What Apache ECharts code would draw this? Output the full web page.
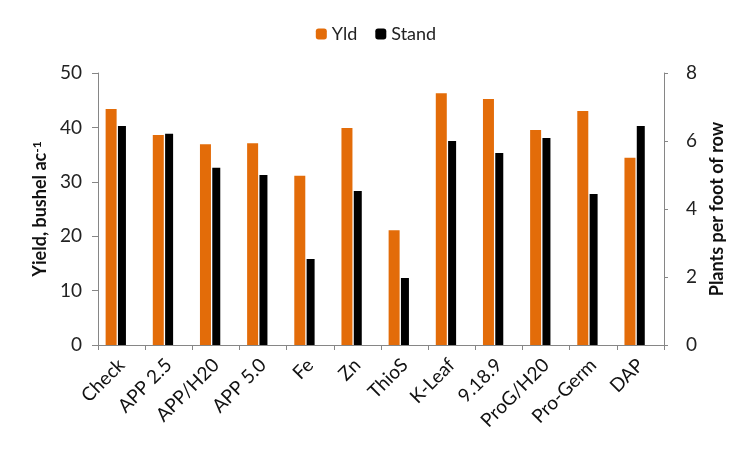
<!DOCTYPE html>
<html><head><meta charset="utf-8">
<script src="https://cdn.jsdelivr.net/npm/echarts@6/dist/echarts.min.js"></script>
<style>html,body{margin:0;padding:0;background:#fff}#c{width:752px;height:449px}</style>
</head><body><div id="c"></div>
<script>
var categories = ['Check','APP 2.5','APP/H20','APP 5.0','Fe','Zn','ThioS','K-Leaf','9.18.9','ProG/H20','Pro-Germ','DAP'];
var yld = [43.4, 38.6, 36.9, 37.1, 31.1, 39.9, 21.1, 46.3, 45.2, 39.5, 43.0, 34.4];
var stand = [6.44, 6.21, 5.21, 5.0, 2.53, 4.53, 1.97, 6.0, 5.65, 6.09, 4.44, 6.44];
var yldTicks = {min: 0, max: 50, interval: 10};
var standTicks = {min: 0, max: 8, interval: 2};

var FONT = 'Lato';
var axisGray = '#868686';
var chart = echarts.init(document.getElementById('c'), null, {renderer: 'canvas'});
chart.setOption({
  animation: false,
  textStyle: {fontFamily: FONT},
  legend: {
    top: 20, left: 'center', itemWidth: 11, itemHeight: 11, itemGap: 18,
    textStyle: {fontSize: 18, color: '#222', fontFamily: FONT},
    data: ['Yld', 'Stand']
  },
  grid: [
    {left: 98, right: 88, top: 73, bottom: 104},
    {left: 92.2, right: 93.8, top: 73, bottom: 104}
  ],
  xAxis: [
    {type: 'category', gridIndex: 0, data: categories,
     axisLine: {lineStyle: {color: axisGray, width: 1}},
     axisTick: {show: true, length: 5, lineStyle: {color: axisGray}},
     axisLabel: {rotate: 45, fontSize: 19, color: '#111', fontFamily: FONT, margin: 17, interval: 0}},
    {type: 'category', gridIndex: 1, data: categories, show: false}
  ],
  yAxis: [
    {type: 'value', gridIndex: 0, position: 'left', min: yldTicks.min, max: yldTicks.max, interval: yldTicks.interval,
     name: 'Yield, bushel ac{sup|-1}', nameLocation: 'middle', nameGap: 49, nameRotate: 90,
     nameTextStyle: {fontSize: 18, fontWeight: 'bold', color: '#111', fontFamily: FONT,
       rich: {sup: {fontSize: 12, fontWeight: 'bold', verticalAlign: 'top', color: '#111', fontFamily: FONT, padding: [0,0,6,0]}}},
     axisLine: {show: true, lineStyle: {color: axisGray}},
     axisTick: {show: true, length: 6, lineStyle: {color: axisGray}},
     axisLabel: {fontSize: 19, color: '#222', fontFamily: FONT, margin: 16},
     splitLine: {show: false}},
    {type: 'value', gridIndex: 0, position: 'right', min: standTicks.min, max: standTicks.max, interval: standTicks.interval,
     name: 'Plants per foot of row', nameLocation: 'middle', nameGap: 40, nameRotate: 90,
     nameTextStyle: {fontSize: 18, fontWeight: 'bold', color: '#111', fontFamily: FONT},
     axisLine: {show: true, lineStyle: {color: axisGray}},
     axisTick: {show: true, length: 4, lineStyle: {color: axisGray}},
     axisLabel: {fontSize: 19, color: '#222', fontFamily: FONT, margin: 22},
     splitLine: {show: false}},
    {type: 'value', gridIndex: 1, min: yldTicks.min, max: yldTicks.max, show: false, splitLine: {show: false}},
    {type: 'value', gridIndex: 1, min: standTicks.min, max: standTicks.max, show: false, splitLine: {show: false}}
  ],
  series: [
    {name: 'Yld', type: 'bar', xAxisIndex: 1, yAxisIndex: 2, data: yld, barWidth: 11, barGap: '12%',
     itemStyle: {color: '#E36C09'}},
    {name: 'Stand', type: 'bar', xAxisIndex: 1, yAxisIndex: 3, data: stand, barWidth: 8, barGap: '12%',
     itemStyle: {color: '#000000'}}
  ]
});
</script></body></html>
